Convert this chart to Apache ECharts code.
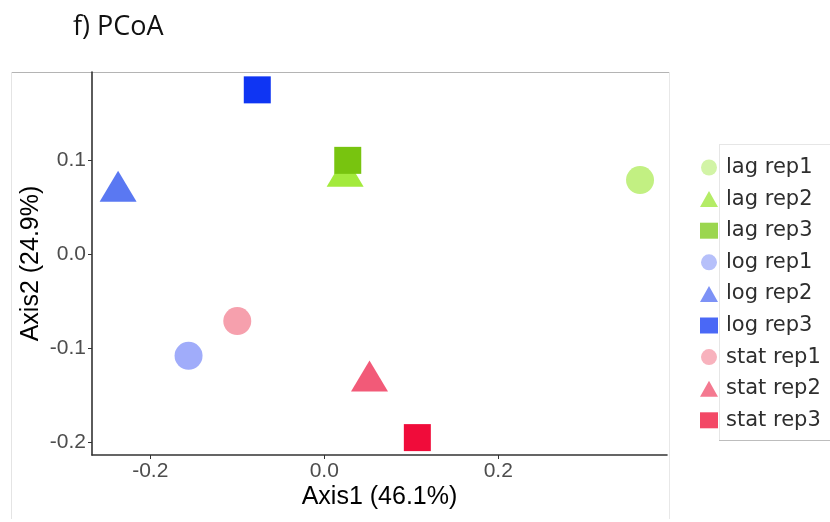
<!DOCTYPE html>
<html>
<head>
<meta charset="utf-8">
<script src="https://cdn.jsdelivr.net/npm/echarts@6/dist/echarts.min.js"></script>
<style>
  html, body { margin: 0; padding: 0; background: #ffffff; }
  #chart { width: 830px; height: 522px; }
</style>
</head>
<body>
<div id="chart"></div>
<script>
// PCoA sample coordinates (Axis1, Axis2)
const sampleNames = ['lag rep1', 'lag rep2', 'lag rep3', 'log rep1', 'log rep2', 'log rep3', 'stat rep1', 'stat rep2', 'stat rep3'];
const axis1Values = [0.363, 0.024, 0.027, -0.156, -0.237, -0.077, -0.100, 0.052, 0.107];
const axis2Values = [0.079, 0.083, 0.100, -0.108, 0.067, 0.175, -0.071, -0.135, -0.195];
const sampleShapes = ['circle', 'triangle', 'rect', 'circle', 'triangle', 'rect', 'circle', 'triangle', 'rect'];
const pointColors = ['#c2f082', '#a3ea3c', '#78c40f', '#a0acfa', '#5a78f2', '#0f35f3', '#f6a0ad', '#f25a78', '#f00c3a'];
const legendColors = ['#d2f4a6', '#b4ec66', '#9bd64f', '#b6c0fa', '#7d92f6', '#4a68f6', '#f8b2bd', '#f47990', '#f34866'];

// axis tick positions
const xTickValues = [-0.2, 0.0, 0.2];
const yTickValues = [-0.2, -0.1, 0.0, 0.1];

const xTitle = 'Axis1 (46.1%)';
const yTitle = 'Axis2 (24.9%)';
const panelTitle = 'f) PCoA';

const symbolSizes = { circle: 28, rect: 27, triangle: [37, 31] };

const series = sampleNames.map((name, i) => {
  const shape = sampleShapes[i];
  const s = {
    name: name,
    type: 'scatter',
    symbol: shape,
    symbolSize: symbolSizes[shape],
    itemStyle: { color: pointColors[i], opacity: 1 },
    emphasis: { disabled: true },
    data: [[axis1Values[i], axis2Values[i]]],
    z: 2 + (shape === 'rect' ? 1 : 0)
  };
  // triangles are centred on their centroid
  if (shape === 'triangle') s.symbolOffset = [0, -5.2];
  return s;
});

const chart = echarts.init(document.getElementById('chart'), null, { renderer: 'canvas' });

const axisFont = '"Liberation Sans", Arial, sans-serif';

chart.setOption({
  animation: false,
  backgroundColor: '#ffffff',
  grid: { left: 92, top: 72, right: 163, bottom: 67, containLabel: false },
  xAxis: {
    type: 'value',
    min: -0.267,
    max: 0.394,
    name: xTitle,
    nameLocation: 'middle',
    nameGap: 30,
    nameMoveOverlap: false,
    nameTextStyle: { fontFamily: axisFont, fontSize: 25, color: '#000000' },
    axisLine: { show: true, onZero: false, lineStyle: { color: '#333333', width: 1.6 } },
    axisTick: { show: true, length: 4, customValues: xTickValues, lineStyle: { color: '#333333', width: 1 } },
    axisLabel: {
      customValues: xTickValues,
      formatter: v => v.toFixed(1),
      fontFamily: axisFont, fontSize: 21, color: '#4d4d4d', margin: 6
    },
    splitLine: { show: false }
  },
  yAxis: {
    type: 'value',
    min: -0.2135,
    max: 0.194,
    name: yTitle,
    nameLocation: 'middle',
    nameGap: 48,
    nameRotate: 90,
    nameMoveOverlap: false,
    nameTextStyle: { fontFamily: axisFont, fontSize: 25, color: '#000000' },
    axisLine: { show: true, onZero: false, lineStyle: { color: '#333333', width: 1.6 } },
    axisTick: { show: true, length: 4, customValues: yTickValues, lineStyle: { color: '#333333', width: 1 } },
    axisLabel: {
      customValues: yTickValues,
      formatter: v => v.toFixed(1),
      fontFamily: axisFont, fontSize: 21, color: '#4d4d4d', margin: 6
    },
    splitLine: { show: false }
  },
  legend: {
    orient: 'vertical',
    left: 695,
    top: 152,
    itemWidth: 18,
    itemHeight: 16,
    itemGap: 10.6,
    symbolKeepAspect: false,
    selectedMode: false,
    textStyle: { fontFamily: '"DejaVu Sans", sans-serif', fontSize: 21, lineHeight: 20, color: '#2e2e2e', padding: [0, 0, 0, 3] },
    data: sampleNames.map((name, i) => ({
      name: name,
      icon: sampleShapes[i],
      itemStyle: { color: legendColors[i] }
    }))
  },
  graphic: [
    {
      type: 'text', left: 73, top: 14, silent: true,
      style: { text: panelTitle, font: '27px "Open Sans", sans-serif', fill: '#111111' }
    },
    // outer frame
    { type: 'line', silent: true, shape: { x1: 11, y1: 72.5, x2: 669, y2: 72.5 }, style: { stroke: '#b4b4b4', lineWidth: 1 } },
    { type: 'line', silent: true, shape: { x1: 11.5, y1: 72, x2: 11.5, y2: 519 }, style: { stroke: '#e4e4e4', lineWidth: 1 } },
    { type: 'line', silent: true, shape: { x1: 669.5, y1: 72, x2: 669.5, y2: 519 }, style: { stroke: '#e8e8e8', lineWidth: 1 } },
    // legend frame
    { type: 'line', silent: true, shape: { x1: 719, y1: 144.5, x2: 830, y2: 144.5 }, style: { stroke: '#e6e6e6', lineWidth: 1 } },
    { type: 'line', silent: true, shape: { x1: 719.5, y1: 144, x2: 719.5, y2: 441 }, style: { stroke: '#e6e6e6', lineWidth: 1 } },
    { type: 'line', silent: true, shape: { x1: 719, y1: 440.5, x2: 830, y2: 440.5 }, style: { stroke: '#bdbdbd', lineWidth: 1 } }
  ],
  series: series
});
</script>
</body>
</html>
